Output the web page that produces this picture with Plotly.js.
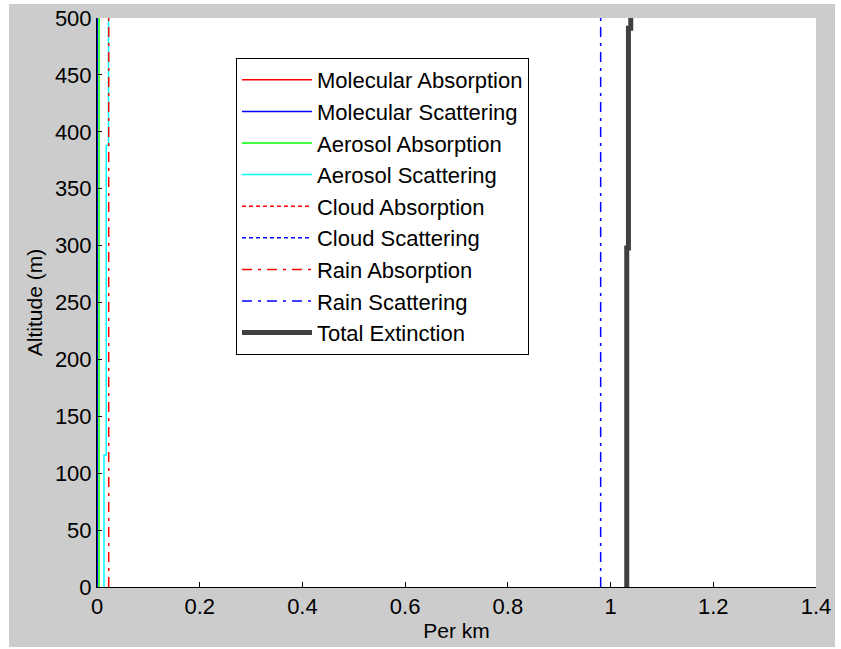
<!DOCTYPE html>
<html>
<head>
<meta charset="utf-8">
<script src="https://cdn.plot.ly/plotly-3.0.1.min.js"></script>
<style>
  html, body { margin: 0; padding: 0; background: #ffffff; }
  #chart { position: absolute; left: 9px; top: 4px; width: 826px; height: 643px; }
</style>
</head>
<body>
<div id="chart"></div>
<script>
// Altitude levels (m) where the layer values change; each value holds up to the next level.
const altitudeLevels = [0, 116, 298, 388, 491, 500];

// Extinction components (per km) for each altitude layer.
const molecularAbsorption = [0.0002, 0.0002, 0.0002, 0.0002, 0.0002, 0.0002];
const molecularScattering = [0.0005, 0.0005, 0.0005, 0.0005, 0.0005, 0.0005];
const aerosolAbsorption   = [0.004, 0.004, 0.004, 0.004, 0.004, 0.004];
const aerosolScattering   = [0.0136, 0.018, 0.018, 0.0224, 0.0224, 0.0224];
const cloudAbsorption     = [0, 0, 0, 0, 0, 0];
const cloudScattering     = [0, 0, 0, 0, 0, 0];
const rainAbsorption      = [0.0228, 0.0228, 0.0228, 0.0228, 0.0228, 0.0228];
const rainScattering      = [0.9807, 0.9807, 0.9807, 0.9807, 0.9807, 0.9807];
const totalExtinction     = [1.0315, 1.0315, 1.0348, 1.0348, 1.0393, 1.0393];

const seriesNames = [
  'Molecular Absorption', 'Molecular Scattering', 'Aerosol Absorption', 'Aerosol Scattering',
  'Cloud Absorption', 'Cloud Scattering', 'Rain Absorption', 'Rain Scattering', 'Total Extinction'
];
const seriesValues = [
  molecularAbsorption, molecularScattering, aerosolAbsorption, aerosolScattering,
  cloudAbsorption, cloudScattering, rainAbsorption, rainScattering, totalExtinction
];
const seriesStyles = [
  { color: '#ff0000', width: 1.5, dash: 'solid' },
  { color: '#0000ff', width: 1.5, dash: 'solid' },
  { color: '#00ff00', width: 1.5, dash: 'solid' },
  { color: '#00ffff', width: 1.5, dash: 'solid' },
  { color: '#ff0000', width: 1.5, dash: '4px,3px' },
  { color: '#0000ff', width: 1.5, dash: '4px,3px' },
  { color: '#ff0000', width: 1.5, dash: '10px,6px,3px,6px' },
  { color: '#0000ff', width: 1.5, dash: '10px,6px,3px,6px' },
  { color: '#404040', width: 5, dash: 'solid' }
];

const traces = seriesNames.map((name, i) => ({
  type: 'scatter',
  mode: 'lines',
  name: name,
  legendgroup: 'g' + i,
  x: seriesValues[i],
  y: altitudeLevels,
  line: Object.assign({ shape: 'vh' }, seriesStyles[i]),
  hoverinfo: 'x+y+name'
}));

const fontFamily = 'Arial, "Liberation Sans", sans-serif';
const tickFont = { family: fontFamily, size: 22, color: '#000000' };
const titleFont = { family: fontFamily, size: 21, color: '#000000' };

const layout = {
  paper_bgcolor: '#cccccc',
  plot_bgcolor: '#ffffff',
  margin: { l: 88, r: 19, t: 14, b: 60 },
  font: { family: fontFamily, size: 22, color: '#000000' },
  showlegend: true,
  legend: {
    x: 0.1933, y: 0.9297, xanchor: 'left', yanchor: 'top',
    bgcolor: '#ffffff', bordercolor: '#000000', borderwidth: 1,
    font: { family: fontFamily, size: 22, color: '#000000' },
    traceorder: 'grouped', tracegroupgap: 0, itemwidth: 70
  },
  xaxis: {
    range: [0, 1.4], dtick: 0.2, tick0: 0,
    showgrid: false, zeroline: false,
    showline: true, linecolor: '#000000', linewidth: 1,
    ticks: 'inside', ticklen: 5, tickcolor: '#000000',
    tickfont: tickFont,
    title: { text: 'Per km', font: titleFont, standoff: 4 }
  },
  yaxis: {
    range: [0, 500], dtick: 50, tick0: 0,
    showgrid: false, zeroline: false,
    showline: true, linecolor: '#000000', linewidth: 1,
    ticks: 'inside', ticklen: 5, tickcolor: '#000000',
    tickfont: tickFont,
    title: { text: 'Altitude (m)', font: titleFont, standoff: 6 }
  }
};

Plotly.newPlot('chart', traces, layout, { displayModeBar: false, responsive: false });
</script>
</body>
</html>
